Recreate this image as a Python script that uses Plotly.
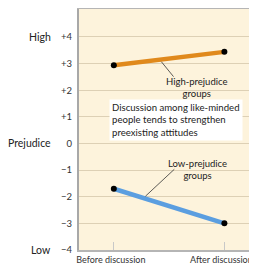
import plotly.graph_objects as go

categories = ["Before discussion", "After discussion"]
x_pos = [0, 1]
high_prejudice = [2.94, 3.44]
low_prejudice = [-1.70, -3.00]
y_ticks = [4, 3, 2, 1, 0, -1, -2, -3, -4]
y_tick_labels = ["+4", "+3", "+2", "+1", "0", "\u22121", "\u22122", "\u22123", "\u22124"]

font_family = "Lato, 'Open Sans', sans-serif"
fig = go.Figure()
fig.add_trace(go.Scatter(x=x_pos, y=high_prejudice, mode="lines",
                         line=dict(color="#e0891c", width=4.5), showlegend=False))
fig.add_trace(go.Scatter(x=x_pos, y=low_prejudice, mode="lines",
                         line=dict(color="#5b9ee0", width=4.5), showlegend=False))
fig.add_trace(go.Scatter(x=x_pos + x_pos, y=high_prejudice + low_prejudice, mode="markers",
                         marker=dict(color="black", size=6), showlegend=False))

# leader lines
fig.add_shape(type="line", x0=0.43, y0=3.07, x1=0.54, y1=2.51,
              line=dict(color="#333", width=0.8))
fig.add_shape(type="line", x0=0.547, y0=-0.97, x1=0.286, y1=-1.98,
              line=dict(color="#333", width=0.8))

fig.add_annotation(x=0.75, y=2.11, text="High-prejudice<br>groups", showarrow=False,
                   font=dict(size=9.5, color="#222", family=font_family), align="center")
fig.add_annotation(x=0.76, y=-0.97, text="Low-prejudice<br>groups", showarrow=False,
                   font=dict(size=9.5, color="#222", family=font_family), align="center")
fig.add_annotation(x=-0.048, y=0.88, xanchor="left", yanchor="middle",
                   text="Discussion among like-minded<br>people tends to strengthen<br>preexisting attitudes",
                   showarrow=False, align="left", bgcolor="white", borderpad=2,
                   font=dict(size=9.6, color="#222", family=font_family))

for lbl, yv in [("High", 4), ("Prejudice", 0), ("Low", -4)]:
    fig.add_annotation(xref="paper", x=-0.146, y=yv, xanchor="right", text=lbl,
                       showarrow=False, font=dict(size=10.5, color="#222", family=font_family))

fig.update_layout(
    width=249, height=261,
    margin=dict(l=71, r=0, t=1, b=19),
    paper_bgcolor="white", plot_bgcolor="#fdf3dc",
    font=dict(family=font_family, color="#333"),
    xaxis=dict(range=[-0.315, 1.295], tickvals=x_pos, ticktext=categories,
               showgrid=False, zeroline=False, showline=True, mirror=True,
               linecolor="#b5b5b5", linewidth=2, ticks="inside", ticklen=8,
               tickcolor="#c8c8c8", tickfont=dict(size=9, color="#333"),
               ticklabeloverflow="allow", ticklabelshift=-3),
    yaxis=dict(range=[-4, 5.05], tickvals=y_ticks, ticktext=y_tick_labels,
               showgrid=True, gridcolor="#ddd0b5", gridwidth=1, zeroline=False,
               showline=True, linecolor="#a8a8a8", linewidth=2,
               ticks="outside", ticklen=3, tickcolor="rgba(0,0,0,0)",
               tickfont=dict(size=9.5, color="#333")),
)
fig.write_html("out.html")
